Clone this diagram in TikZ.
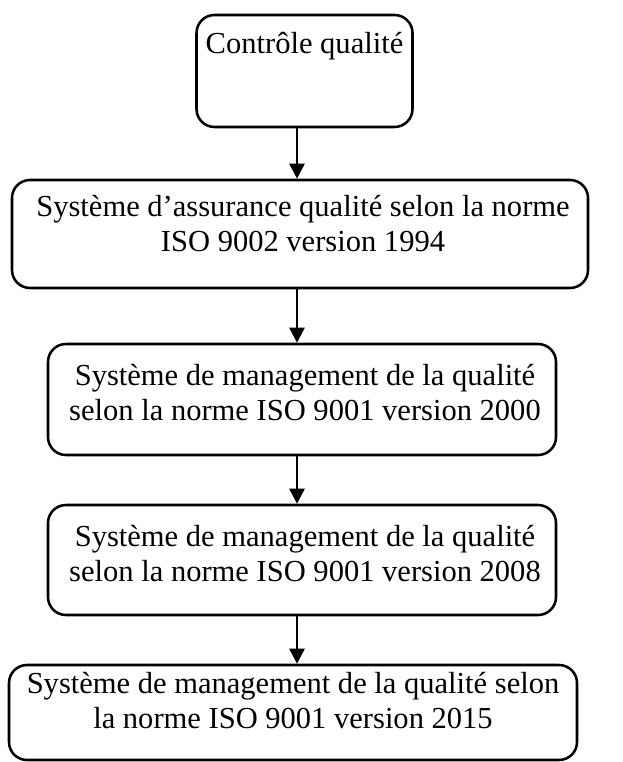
\documentclass[tikz,border=0pt]{standalone}
\usepackage{fontspec}
\setmainfont{Liberation Serif}
\usetikzlibrary{arrows.meta}
\begin{document}
\begin{tikzpicture}[x=0.75pt,y=-0.75pt,
  stage/.style={draw=black, line width=1.9pt, rounded corners=13.5pt, fill=white, inner sep=0pt},
  caption/.style={anchor=base, align=center, inner sep=0pt,
    font=\fontsize{22.9}{26.25}\selectfont},
  flow/.style={line width=1.9pt, -{Triangle[width=11.25pt,length=11.25pt]}}]
\useasboundingbox (0,0) rectangle (622,762);

% stage boxes
\node[stage, minimum width=162pt,    minimum height=84pt]   (b1) at (304.5,71)  {};
\node[stage, minimum width=432pt,    minimum height=81pt]   (b2) at (300,234)   {};
\node[stage, minimum width=381pt,    minimum height=83.25pt](b3) at (302,399.5) {};
\node[stage, minimum width=381pt,    minimum height=82.5pt] (b4) at (302,560)   {};
\node[stage, minimum width=426pt,    minimum height=71.25pt](b5) at (293,712.5) {};

% captions (base anchor sits on the last line)
\node[caption] (t1) at (304.5,54) {Contrôle qualité};
\node[caption] (t2) at (303,252) {Système d’assurance qualité selon la norme\\ISO 9002 version 1994};
\node[caption] (t3) at (305,420) {Système de management de la qualité\\selon la norme ISO 9001 version 2000};
\node[caption] (t4) at (305,581) {Système de management de la qualité\\selon la norme ISO 9001 version 2008};
\node[caption] (t5) at (293,728) {Système de management de la qualité selon\\la norme ISO 9001 version 2015};

% connectors
\coordinate (ax) at (297,0);
\draw[flow] (b1.south -| ax) -- (b2.north -| ax);
\draw[flow] (b2.south -| ax) -- (b3.north -| ax);
\draw[flow] (b3.south -| ax) -- (b4.north -| ax);
\draw[flow] (b4.south -| ax) -- (b5.north -| ax);
\end{tikzpicture}
\end{document}
